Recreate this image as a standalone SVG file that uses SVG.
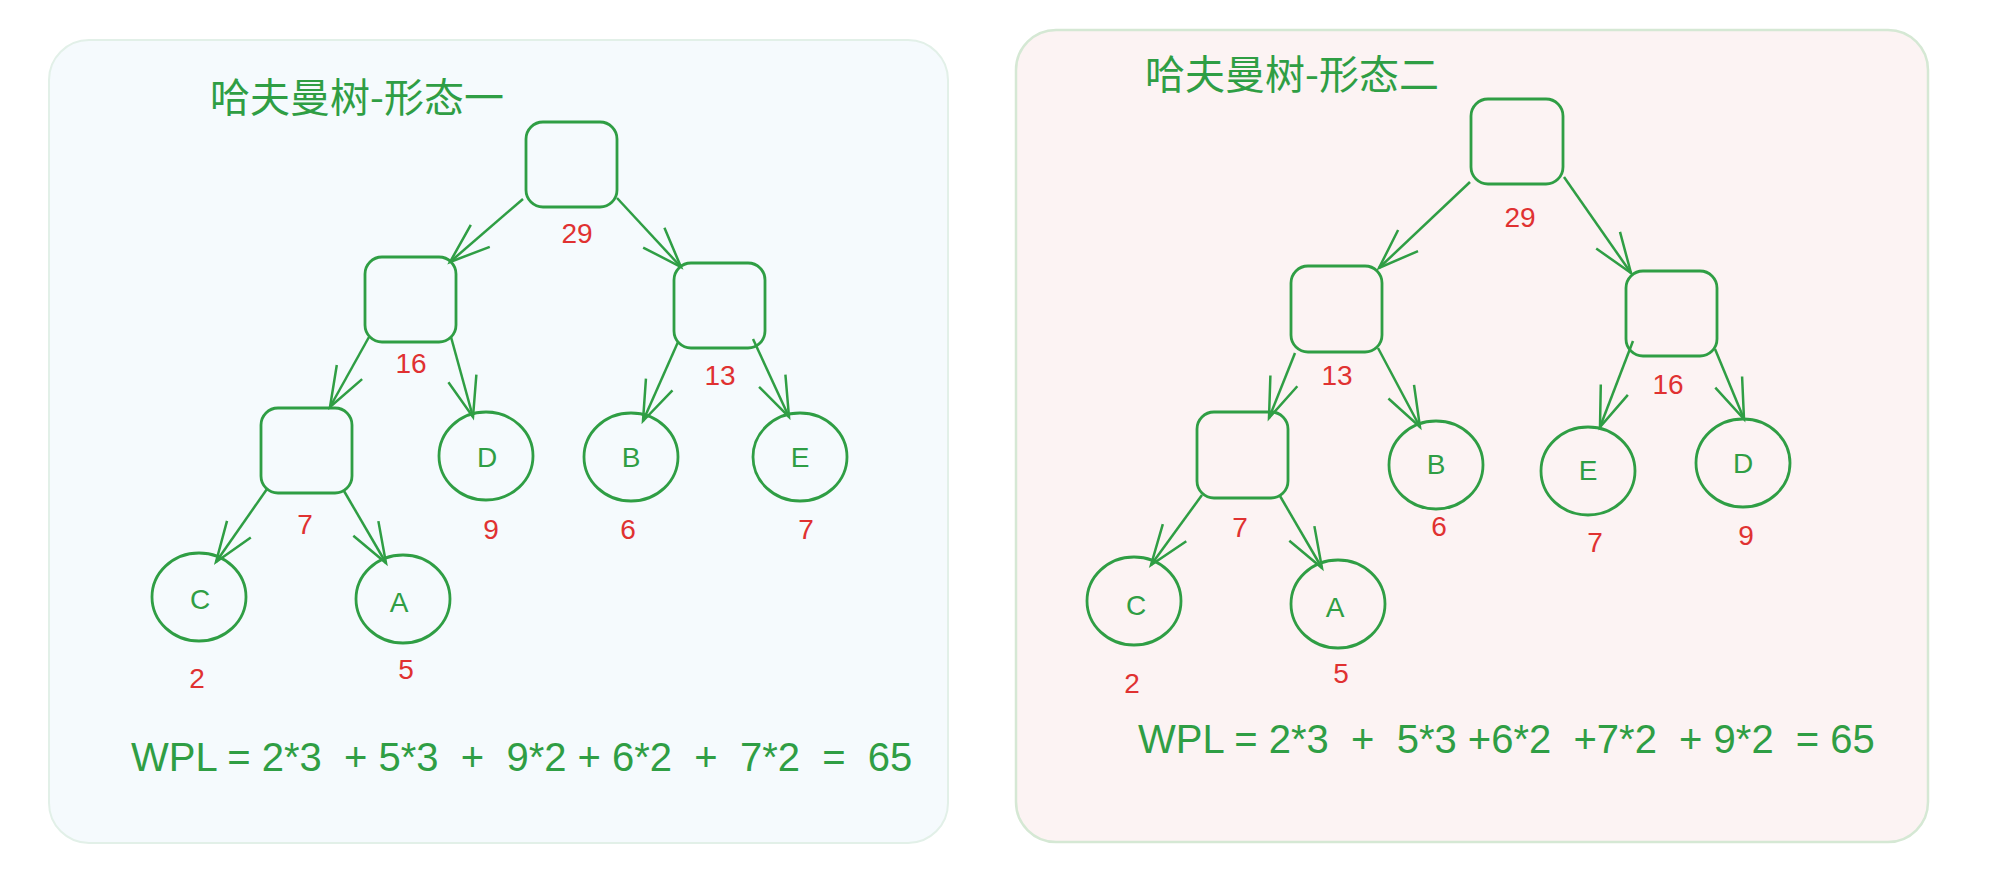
<svg xmlns="http://www.w3.org/2000/svg" width="1989" height="877" viewBox="0 0 1989 877">
<defs>
<style>
.panel1{fill:#f5fafd;stroke:#e2f0e8;stroke-width:2}
.panel2{fill:#fcf3f3;stroke:#d5e8d4;stroke-width:2.5}
.box{fill:none;stroke:#2f9e44;stroke-width:2.8}
.leaf{fill:none;stroke:#2f9e44;stroke-width:2.8}
.edge{fill:none;stroke:#2f9e44;stroke-width:2.5;marker-end:url(#arr)}
.title{font-family:"Noto Sans CJK SC","Noto Sans",sans-serif;font-size:40px;fill:#2f9e44}
.w{font-family:"Liberation Sans",Arial,sans-serif;font-size:28px;fill:#e03131;text-anchor:middle}
.lbl{font-family:"Liberation Sans",Arial,sans-serif;font-size:28px;fill:#2f9e44;text-anchor:middle}
.wpl{font-family:"Liberation Sans",Arial,sans-serif;font-size:40px;fill:#2f9e44;white-space:pre}
</style>
<marker id="arr" markerUnits="userSpaceOnUse" orient="auto" refX="0" refY="0" markerWidth="50" markerHeight="40" overflow="visible">
<path d="M-40,-14.5 L0,0 L-40,14.5" fill="none" stroke="#2f9e44" stroke-width="2.5"/>
</marker>
</defs>
<rect class="panel1" x="49" y="40" width="899" height="803" rx="40"/>
<rect class="panel2" x="1016" y="30" width="912" height="812" rx="40"/>
<text class="title" x="210" y="112">哈夫曼树-形态一</text>
<text class="title" x="1145" y="89">哈夫曼树-形态二</text>
<g id="connectors">
<line class="edge" x1="523" y1="199" x2="450" y2="262"/>
<line class="edge" x1="617" y1="198" x2="681" y2="267"/>
<line class="edge" x1="369" y1="337" x2="330" y2="407"/>
<line class="edge" x1="451" y1="337" x2="473" y2="417"/>
<line class="edge" x1="678" y1="342" x2="643" y2="421"/>
<line class="edge" x1="753" y1="339" x2="789" y2="417"/>
<line class="edge" x1="267" y1="489" x2="216" y2="562"/>
<line class="edge" x1="344" y1="491" x2="386" y2="563"/>
<line class="edge" x1="1470" y1="182" x2="1379" y2="268"/>
<line class="edge" x1="1564" y1="177" x2="1631" y2="273"/>
<line class="edge" x1="1295" y1="353" x2="1269" y2="418"/>
<line class="edge" x1="1378" y1="348" x2="1420" y2="427"/>
<line class="edge" x1="1633" y1="341" x2="1600" y2="427"/>
<line class="edge" x1="1715" y1="349" x2="1744" y2="419"/>
<line class="edge" x1="1202" y1="495" x2="1151" y2="565"/>
<line class="edge" x1="1280" y1="496" x2="1322" y2="568"/>
</g>
<g id="t1-root"><rect class="box" x="526" y="122" width="91" height="85" rx="17"/><text class="w" x="577" y="243">29</text></g>
<g id="t1-n16"><rect class="box" x="365" y="257" width="91" height="85" rx="17"/><text class="w" x="411" y="373">16</text></g>
<g id="t1-n13"><rect class="box" x="674" y="263" width="91" height="85" rx="17"/><text class="w" x="720" y="385">13</text></g>
<g id="t1-n7"><rect class="box" x="261" y="408" width="91" height="85" rx="17"/><text class="w" x="305" y="534">7</text></g>
<g id="t1-D"><ellipse class="leaf" cx="486" cy="456" rx="47" ry="44"/><text class="lbl" x="487" y="467">D</text><text class="w" x="491" y="539">9</text></g>
<g id="t1-B"><ellipse class="leaf" cx="631" cy="457" rx="47" ry="44"/><text class="lbl" x="631" y="467">B</text><text class="w" x="628" y="539">6</text></g>
<g id="t1-E"><ellipse class="leaf" cx="800" cy="457" rx="47" ry="44"/><text class="lbl" x="800" y="467">E</text><text class="w" x="806" y="539">7</text></g>
<g id="t1-C"><ellipse class="leaf" cx="199" cy="597" rx="47" ry="44"/><text class="lbl" x="200" y="609">C</text><text class="w" x="197" y="688">2</text></g>
<g id="t1-A"><ellipse class="leaf" cx="403" cy="599" rx="47" ry="44"/><text class="lbl" x="399" y="612">A</text><text class="w" x="406" y="679">5</text></g>
<g id="t2-root"><rect class="box" x="1471" y="99" width="92" height="85" rx="17"/><text class="w" x="1520" y="227">29</text></g>
<g id="t2-n13"><rect class="box" x="1291" y="266" width="91" height="86" rx="17"/><text class="w" x="1337" y="385">13</text></g>
<g id="t2-n16"><rect class="box" x="1626" y="271" width="91" height="85" rx="17"/><text class="w" x="1668" y="394">16</text></g>
<g id="t2-n7"><rect class="box" x="1197" y="412" width="91" height="86" rx="17"/><text class="w" x="1240" y="537">7</text></g>
<g id="t2-B"><ellipse class="leaf" cx="1436" cy="465" rx="47" ry="44"/><text class="lbl" x="1436" y="474">B</text><text class="w" x="1439" y="536">6</text></g>
<g id="t2-E"><ellipse class="leaf" cx="1588" cy="471" rx="47" ry="44"/><text class="lbl" x="1588" y="480">E</text><text class="w" x="1595" y="552">7</text></g>
<g id="t2-D"><ellipse class="leaf" cx="1743" cy="463" rx="47" ry="44"/><text class="lbl" x="1743" y="473">D</text><text class="w" x="1746" y="545">9</text></g>
<g id="t2-C"><ellipse class="leaf" cx="1134" cy="601" rx="47" ry="44"/><text class="lbl" x="1136" y="615">C</text><text class="w" x="1132" y="693">2</text></g>
<g id="t2-A"><ellipse class="leaf" cx="1338" cy="604" rx="47" ry="44"/><text class="lbl" x="1335" y="617">A</text><text class="w" x="1341" y="683">5</text></g>
<text class="wpl" x="131" y="771" xml:space="preserve">WPL = 2*3  + 5*3  +  9*2 + 6*2  +  7*2  =  65</text>
<text class="wpl" x="1138" y="753" xml:space="preserve">WPL = 2*3  +  5*3 +6*2  +7*2  + 9*2  = 65</text>
</svg>
